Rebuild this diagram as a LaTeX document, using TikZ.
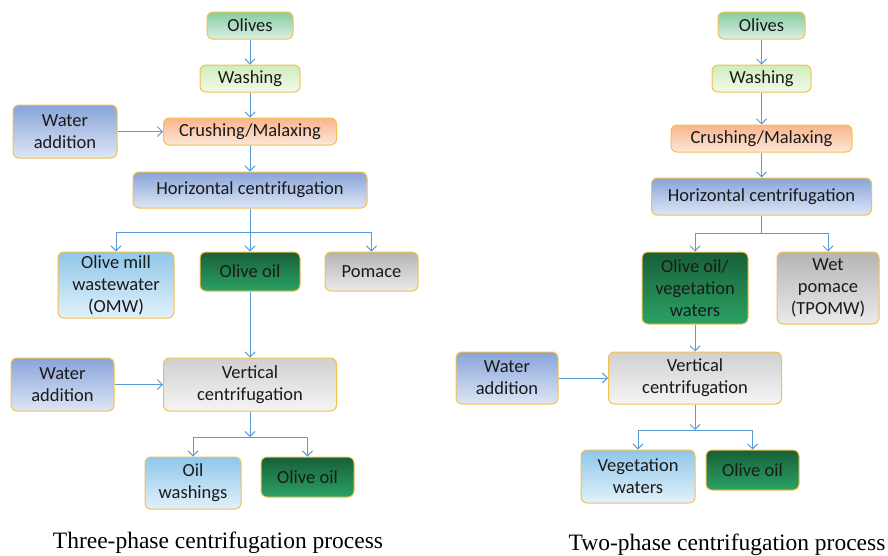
\documentclass[tikz,border=0pt]{standalone}
\usepackage{fontspec}
\setmainfont{Carlito}
\newfontfamily\capfont{Liberation Serif}
\usetikzlibrary{arrows.meta,positioning,calc}
\definecolor{flowGold}{HTML}{F2C14E}
\definecolor{flowLine}{HTML}{5B9BD5}
\definecolor{flowInk}{HTML}{1A1A1A}
\definecolor{greenTop}{HTML}{86CCA2}
\definecolor{greenBot}{HTML}{DAF0E3}
\definecolor{limeTop}{HTML}{CFEDBA}
\definecolor{limeBot}{HTML}{F2FAEA}
\definecolor{orangeTop}{HTML}{F9B48C}
\definecolor{orangeBot}{HTML}{FDE8DA}
\definecolor{blueTop}{HTML}{88A4D8}
\definecolor{blueBot}{HTML}{DEE6F6}
\definecolor{skyTop}{HTML}{8FC7EA}
\definecolor{skyBot}{HTML}{E2F1FA}
\definecolor{oilTop}{HTML}{185F38}
\definecolor{oilBot}{HTML}{2BA265}
\definecolor{grayTop}{HTML}{B4B4B4}
\definecolor{grayBot}{HTML}{EBEBEB}
\definecolor{silverTop}{HTML}{D0D0D0}
\definecolor{silverBot}{HTML}{F5F5F5}
\tikzset{
  procBox/.style={
    draw=flowGold,
    rounded corners=6pt,
    line width=1pt,
    align=center,
    text=flowInk,
    font=\fontsize{18.5}{22}\selectfont,
    inner sep=2pt
  },
  procGreen/.style={procBox, top color=greenTop, bottom color=greenBot},
  procLime/.style={procBox, top color=limeTop, bottom color=limeBot},
  procOrange/.style={procBox, top color=orangeTop, bottom color=orangeBot},
  procBlue/.style={procBox, top color=blueTop, bottom color=blueBot},
  procSky/.style={procBox, top color=skyTop, bottom color=skyBot},
  procOil/.style={procBox, top color=oilTop, bottom color=oilBot},
  procGray/.style={procBox, top color=grayTop, bottom color=grayBot},
  procSilver/.style={procBox, top color=silverTop, bottom color=silverBot},
  flowArrow/.style={
    -{Straight Barb[length=5pt,width=10pt]},
    line width=1pt,
    draw=flowLine
  },
  flowLink/.style={line width=1pt, draw=flowLine},
  capText/.style={font=\capfont\fontsize{23.5}{26}\selectfont, text=black}
}

\begin{document}
\begin{tikzpicture}[x=1pt, y=-1pt]
  \useasboundingbox (0,0) rectangle (888,555);

  % three-phase process
  \node[procGreen, minimum width=86pt, minimum height=27pt] (olivesA) at (250,25.5) {Olives};
  \node[procLime, minimum width=100pt, minimum height=27pt] (washA) at (250,78.5) {Washing};
  \node[procOrange, minimum width=173pt, minimum height=27pt] (crushA) at (250,131.5) {Crushing/Malaxing};
  \node[procBlue, minimum width=104pt, minimum height=53pt] (waterA) at (65,131.5) {Water\\addition};
  \node[procBlue, minimum width=234pt, minimum height=36pt] (horizA) at (250,190) {Horizontal centrifugation};

  \node[procSky, minimum width=116pt, minimum height=66pt] (omwA) at (116,285) {Olive mill\\wastewater\\(OMW)};
  \node[procOil, minimum width=100pt, minimum height=39pt] (oilA) at (250,271.5) {Olive oil};
  \node[procGray, minimum width=93pt, minimum height=39pt] (pomaceA) at (371.5,271.5) {Pomace};

  \node[procBlue, minimum width=103pt, minimum height=53pt] (waterB) at (62.5,384.5) {Water\\addition};
  \node[procSilver, minimum width=173pt, minimum height=53pt] (vertA) at (250,384.5) {Vertical\\centrifugation};
  \coordinate (splitA) at (250,437);

  \node[procSky, minimum width=96pt, minimum height=52pt] (washingsA) at (193,483) {Oil\\washings};
  \node[procOil, minimum width=93pt, minimum height=40pt] (oilB) at (307.5,477) {Olive oil};

  \draw[flowArrow] (olivesA) -- (washA);
  \draw[flowArrow] (washA) -- (crushA);
  \draw[flowArrow] (waterA) -- (crushA);
  \draw[flowArrow] (crushA) -- (horizA);
  \draw[flowArrow] (horizA) -- (oilA);
  \foreach \n in {omwA,pomaceA} {
    \draw[flowArrow] (horizA.south) -- ++(0,24) -| (\n.north);
  }
  \draw[flowArrow] (oilA) -- (vertA);
  \draw[flowArrow] (waterB) -- (vertA);
  \draw[flowArrow] (vertA) -- (splitA);
  \foreach \n in {washingsA,oilB} {
    \draw[flowArrow] (splitA) -| (\n.north);
  }

  % two-phase process
  \node[procGreen, minimum width=87pt, minimum height=27pt] (olivesB) at (761.5,25.5) {Olives};
  \node[procLime, minimum width=99pt, minimum height=27pt] (washB) at (761.5,78.5) {Washing};
  \node[procOrange, minimum width=181pt, minimum height=27pt] (crushB) at (761.5,138.5) {Crushing/Malaxing};
  \node[procBlue, minimum width=220pt, minimum height=37pt] (horizB) at (761.5,196.5) {Horizontal centrifugation};

  \node[procOil, minimum width=106pt, minimum height=72pt] (oilvegB) at (695,288) {Olive oil/\\vegetation\\waters};
  \node[procGray, minimum width=102pt, minimum height=72pt] (wetB) at (828,288) {Wet\\pomace\\(TPOMW)};

  \node[procBlue, minimum width=102pt, minimum height=52pt] (waterC) at (507,378) {Water\\addition};
  \node[procSilver, minimum width=173pt, minimum height=52pt] (vertB) at (695,378) {Vertical\\centrifugation};
  \coordinate (splitB) at (695,430);

  \node[procSky, minimum width=114pt, minimum height=53pt] (vegB) at (638,476.5) {Vegetation\\waters};
  \node[procOil, minimum width=93pt, minimum height=40pt] (oilC) at (752.5,470) {Olive oil};

  \draw[flowArrow] (olivesB) -- (washB);
  \draw[flowArrow] (washB) -- (crushB);
  \draw[flowArrow] (crushB) -- (horizB);
  \draw[flowLink] (horizB.south) -- ++(0,18) coordinate (forkB);
  \foreach \n in {oilvegB,wetB} {
    \draw[flowArrow] (forkB) -| (\n.north);
  }
  \draw[flowArrow] (oilvegB) -- (vertB);
  \draw[flowArrow] (waterC) -- (vertB);
  \draw[flowArrow] (vertB) -- (splitB);
  \foreach \n in {vegB,oilC} {
    \draw[flowArrow] (splitB) -| (\n.north);
  }

  \node[capText] (capA) at (218,543) {Three-phase centrifugation process};
  \node[capText] (capB) at (727,545) {Two-phase centrifugation process};
\end{tikzpicture}
\end{document}
